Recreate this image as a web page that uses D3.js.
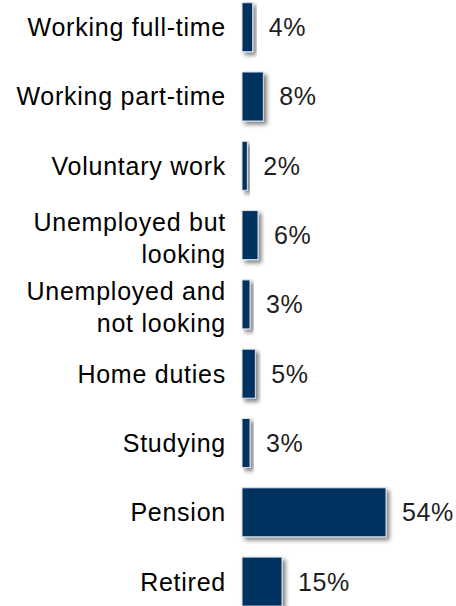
<!DOCTYPE html>
<html>
<head>
<meta charset="utf-8">
<script src="https://cdn.jsdelivr.net/npm/d3@7"></script>
<style>
  html, body { margin: 0; padding: 0; background: #fff; }
  svg { display: block; }
  text { font-family: "Liberation Sans", Arial, sans-serif; }
</style>
</head>
<body>
<svg id="chart" width="456" height="606"></svg>
<script>
// Employment status shares (%)
const categories = [
  ["Working full-time"],
  ["Working part-time"],
  ["Voluntary work"],
  ["Unemployed but", "looking"],
  ["Unemployed and", "not looking"],
  ["Home duties"],
  ["Studying"],
  ["Pension"],
  ["Retired"]
];
const values = [4, 8, 2, 6, 3, 5, 3, 54, 15];
const valueLabels = ["4%", "8%", "2%", "6%", "3%", "5%", "3%", "54%", "15%"];

const W = 456, H = 606;
const svg = d3.select("#chart");

const keys = categories.map(c => c.join(" "));
const y = d3.scaleBand()
  .domain(keys)
  .range([2.7, 606.1])
  .paddingInner(0.293)
  .paddingOuter(0);

const x = d3.scaleLinear().domain([0, 54]).range([242, 386]);

// soft drop shadow behind each bar
const defs = svg.append("defs");
const f = defs.append("filter").attr("id", "shadow")
  .attr("x", "-20%").attr("y", "-20%").attr("width", "160%").attr("height", "160%");
f.append("feGaussianBlur").attr("in", "SourceAlpha").attr("stdDeviation", 2.2).attr("result", "b");
f.append("feOffset").attr("in", "b").attr("dx", 3).attr("dy", 3).attr("result", "o");
f.append("feComponentTransfer").attr("in", "o").attr("result", "s")
  .append("feFuncA").attr("type", "linear").attr("slope", 0.5);
const m = f.append("feMerge");
m.append("feMergeNode").attr("in", "s");
m.append("feMergeNode").attr("in", "SourceGraphic");

const rows = svg.append("g").selectAll("g")
  .data(values.map((v, i) => ({ v, key: keys[i], lines: categories[i], label: valueLabels[i] })))
  .join("g");

rows.append("rect")
  .attr("x", x(0))
  .attr("y", d => y(d.key))
  .attr("width", d => x(d.v) - x(0))
  .attr("height", y.bandwidth())
  .attr("fill", "#03325f")
  .attr("stroke", "#d7e0ea")
  .attr("stroke-width", 1)
  .attr("filter", "url(#shadow)");

const fs = 25;
const lineH = 31.5;

rows.append("text")
  .attr("text-anchor", "end")
  .attr("font-size", fs)
  .attr("fill", "#000")
  .attr("letter-spacing", 0.75)
  .each(function (d) {
    const c = y(d.key) + y.bandwidth() / 2;
    const t = d3.select(this);
    const n = d.lines.length;
    d.lines.forEach((ln, i) => {
      const base = n === 1 ? c + 9 : c - 4 + i * lineH;
      t.append("tspan").attr("x", 226).attr("y", base).text(ln);
    });
  });

rows.append("text")
  .attr("x", d => x(d.v) + 16)
  .attr("y", d => y(d.key) + y.bandwidth() / 2 + 9)
  .attr("font-size", fs)
  .attr("fill", "#1e1e1e")
  .attr("letter-spacing", 0.6)
  .text(d => d.label);
</script>
</body>
</html>
